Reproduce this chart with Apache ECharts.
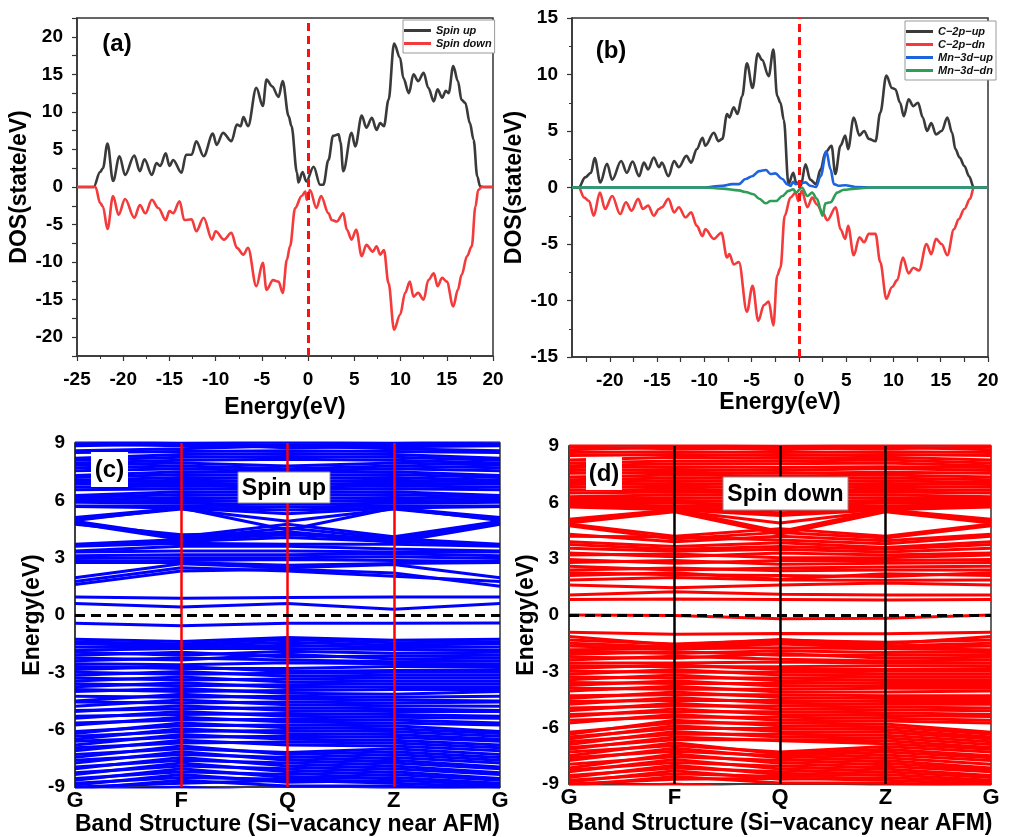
<!DOCTYPE html>
<html lang="en">
<head>
<meta charset="UTF-8">
<title>DOS and band structure</title>
<script src="https://cdn.jsdelivr.net/npm/echarts@6/dist/echarts.min.js"></script>
<style>
  html, body { margin: 0; padding: 0; background: #fff; }
  #chart { width: 1011px; height: 837px; }
</style>
</head>
<body>
<div id="chart"></div>
<script>
// ---------- data: (a) total DOS ----------
const aSpinUp = [[-25,0],[-23.2,0],[-22.5,2.0],[-22.2,2.5],[-21.7,5.8],[-21.1,0.8],[-20.4,4.1],[-19.8,1.6],[-18.8,4.2],[-18.2,2.1],[-17.7,3.7],[-16.9,1.6],[-16.4,3.2],[-16.0,2.8],[-15.4,4.5],[-15.0,2.8],[-14.6,3.6],[-13.7,1.9],[-13.2,4.3],[-12.6,4.3],[-12.1,6.1],[-11.3,4.1],[-10.3,7.1],[-9.9,5.6],[-9.2,7.2],[-8.3,6.1],[-7.7,8.3],[-7.3,8.1],[-7.0,9.3],[-6.5,8.1],[-5.6,13.2],[-4.9,10.8],[-4.5,14.3],[-3.9,13.4],[-3.2,12.0],[-2.75,14.1],[-2.1,9.4],[-1.8,8.1],[-1.2,1.9],[-1.05,0.6],[-0.6,2.0],[-0.2,0.75],[0.6,2.7],[1.3,0.3],[1.65,0.3],[2.2,3.6],[2.7,6.8],[3.3,7.0],[3.5,6.0],[3.8,2.1],[4.7,7.2],[5.1,5.4],[5.8,9.5],[6.3,7.9],[6.9,9.2],[7.4,7.6],[7.8,8.5],[8.2,8.1],[8.7,11.6],[9.3,19.1],[9.95,17.2],[10.3,14.5],[10.9,12.5],[11.4,15.0],[11.9,14.1],[12.5,15.2],[13.0,13.2],[13.6,11.4],[14.0,13.0],[14.5,11.9],[14.9,12.8],[15.2,12.5],[15.7,16.1],[16.2,14.1],[16.6,11.6],[17.0,11.2],[17.5,8.5],[17.9,6.3],[18.3,1.4],[18.6,0.1],[19,0],[20,0]];
const aSpinDown = [[-25,0],[-23.0,0],[-22.5,-2.1],[-22.2,-2.6],[-21.7,-5.6],[-21.1,-1.2],[-20.5,-3.7],[-19.8,-1.6],[-18.8,-4.1],[-18.2,-2.4],[-17.6,-3.5],[-16.9,-1.7],[-16.2,-2.8],[-15.4,-4.4],[-15.0,-3.2],[-14.6,-3.5],[-13.9,-1.9],[-13.4,-4.4],[-12.6,-4.3],[-12.1,-5.9],[-11.3,-4.1],[-10.4,-7.0],[-10.0,-5.9],[-9.1,-7.0],[-8.3,-6.1],[-7.7,-8.1],[-7.0,-9.0],[-6.5,-8.1],[-5.6,-13.2],[-4.9,-10.1],[-4.5,-13.7],[-3.8,-12.4],[-3.2,-12.6],[-2.75,-14.1],[-2.3,-9.7],[-1.96,-7.9],[-1.4,-2.8],[-0.7,-1.2],[-0.3,-0.6],[-0.15,-1.7],[0.2,-0.4],[0.9,-2.8],[1.4,-1.2],[2.2,-3.5],[2.55,-4.4],[3.1,-4.6],[3.8,-3.5],[4.2,-5.7],[4.7,-7.0],[5.2,-5.7],[5.8,-9.2],[6.3,-7.7],[7.0,-8.6],[7.4,-7.9],[7.8,-9.0],[8.2,-8.4],[8.7,-12.8],[9.3,-19.0],[9.95,-17.0],[10.5,-14.1],[11.0,-12.6],[11.4,-14.6],[11.9,-14.1],[12.5,-15.0],[13.0,-12.4],[13.6,-11.5],[14.0,-13.2],[14.5,-12.1],[15.0,-12.6],[15.7,-15.9],[16.2,-13.7],[16.6,-11.7],[17.2,-9.2],[17.7,-7.9],[18.1,-2.6],[18.4,-0.4],[18.8,0],[20,0]];

// ---------- data: (b) partial DOS ----------
const bC2pUp = [[-24,0],[-23.3,0],[-22.6,0.9],[-22.0,1.3],[-21.6,2.6],[-21.0,0.45],[-20.3,2.1],[-19.75,0.7],[-18.8,2.35],[-18.2,1.3],[-17.6,2.3],[-16.9,1.0],[-16.4,2.2],[-15.95,1.6],[-15.35,2.65],[-14.8,1.8],[-14.5,2.2],[-13.8,1.0],[-13.2,2.35],[-12.7,1.8],[-11.9,2.8],[-11.4,2.2],[-10.8,3.4],[-10.2,4.4],[-9.9,3.7],[-9.0,4.85],[-8.5,4.1],[-8.1,4.3],[-7.6,6.5],[-7.35,6.2],[-6.9,7.1],[-6.5,6.5],[-6.0,8.1],[-5.5,11.0],[-4.9,8.8],[-4.35,11.85],[-3.9,11.3],[-3.2,9.85],[-2.7,12.2],[-2.3,8.1],[-1.95,7.5],[-1.6,6.0],[-1.1,0.3],[-0.6,1.3],[-0.3,0.45],[0.2,0.15],[0.7,2.05],[1.2,0.7],[1.8,0.3],[2.3,1.6],[2.8,3.1],[3.45,3.7],[3.85,1.2],[4.4,3.7],[4.9,4.6],[5.2,3.4],[5.8,6.2],[6.4,4.6],[6.9,5.0],[7.4,4.3],[8.1,4.1],[8.6,6.6],[9.25,9.9],[9.85,8.8],[10.2,8.7],[10.7,7.5],[11.1,6.3],[11.6,7.8],[12.1,7.2],[12.6,7.5],[13.1,6.2],[13.55,5.0],[14.0,5.7],[14.5,4.7],[15.1,5.0],[15.7,6.2],[16.2,4.85],[16.55,3.4],[17.0,2.65],[17.5,1.9],[18.0,1.0],[18.5,0],[20,0]];
const bC2pDn = [[-24,0],[-23.3,0],[-22.7,-0.9],[-22.2,-1.2],[-21.7,-2.5],[-21.05,-0.45],[-20.5,-1.9],[-19.75,-0.75],[-18.9,-2.35],[-18.3,-1.3],[-17.7,-2.05],[-17.0,-1.0],[-16.5,-1.9],[-15.95,-1.6],[-15.35,-2.5],[-14.8,-1.9],[-14.5,-1.75],[-13.8,-1.0],[-13.2,-2.2],[-12.7,-1.75],[-12.0,-2.65],[-11.4,-2.2],[-10.8,-3.4],[-10.2,-4.3],[-9.9,-3.7],[-9.0,-4.55],[-8.2,-4.0],[-7.6,-6.2],[-7.35,-5.9],[-6.9,-6.8],[-6.35,-6.6],[-5.5,-11.0],[-4.9,-8.7],[-4.3,-11.8],[-3.7,-10.4],[-3.2,-10.1],[-2.7,-12.2],[-2.3,-7.8],[-1.95,-7.1],[-1.5,-2.5],[-0.9,-0.9],[-0.35,-0.45],[-0.07,-1.2],[0.3,-0.3],[0.9,-1.75],[1.4,-0.9],[1.9,-1.5],[2.5,-2.2],[3.0,-2.9],[3.9,-1.75],[4.4,-3.7],[4.9,-4.55],[5.2,-3.4],[5.8,-6.0],[6.4,-4.4],[6.9,-4.85],[7.4,-4.1],[8.1,-4.1],[8.6,-6.6],[9.25,-9.85],[9.85,-8.8],[10.4,-8.2],[11.0,-6.2],[11.6,-7.6],[12.1,-7.1],[12.7,-7.35],[13.5,-5.0],[14.0,-5.9],[14.5,-4.55],[15.1,-5.0],[15.7,-6.0],[16.4,-3.7],[16.9,-2.8],[17.5,-1.9],[18.1,-1.0],[18.5,0],[20,0]];
const bMn3dUp = [[-24,0],[-10,0],[-8.1,0.15],[-7.05,0.3],[-6.35,0.3],[-5.65,0.75],[-4.95,1.0],[-4.2,1.45],[-3.5,1.55],[-3.0,1.2],[-2.5,1.25],[-1.75,0.75],[-1.25,0.3],[-0.9,0.15],[-0.6,0.5],[-0.35,0.3],[0.2,0.4],[0.7,0.45],[1.2,0.15],[1.8,0.05],[2.3,1.0],[2.9,3.2],[3.35,1.6],[3.7,0.3],[4.2,0.15],[4.9,0.2],[5.95,0.05],[8,0],[20,0]];
const bMn3dDn = [[-24,0],[-10,0],[-8.1,-0.1],[-6.35,-0.25],[-5.65,-0.4],[-4.8,-0.6],[-4.2,-1.0],[-3.5,-1.4],[-3.0,-1.2],[-2.4,-1.2],[-1.75,-0.75],[-1.1,-0.3],[-0.6,-0.15],[-0.3,-0.45],[0.3,0],[0.9,-0.75],[1.4,-0.45],[1.9,-1.0],[2.5,-2.5],[2.8,-1.4],[3.35,-1.3],[4.05,-0.45],[4.75,-0.2],[5.95,-0.1],[7.7,0],[20,0]];

// tick values
const bXLabels = [-20, -15, -10, -5, 0, 5, 10, 15, 20];
const bXTicks = [-22.5, -20, -17.5, -15, -12.5, -10, -7.5, -5, -2.5, 0, 2.5, 5, 7.5, 10, 12.5, 15, 17.5, 20];
const kLabels = ['G', 'F', 'Q', 'Z', 'G'];

// ---------- data: (c) spin-up bands, energies at G F Q Z G ----------
const upConduction = [
  [9.1,9.0,9.05,9.0,9.1],[8.95,8.85,8.9,8.9,8.95],[8.85,8.95,8.75,8.8,8.85],[8.6,8.7,8.85,8.7,8.6],
  [8.5,8.55,8.6,8.55,8.5],[8.2,8.4,8.45,8.4,8.2],[8.1,8.25,8.3,8.25,8.1],[7.95,8.1,8.15,8.1,7.95],
  [7.85,7.95,7.8,7.95,7.85],[7.7,7.8,7.65,7.8,7.7],[7.55,7.65,7.55,7.65,7.55],[7.3,7.5,7.45,7.5,7.3],
  [7.2,7.35,7.3,7.35,7.2],[7.05,7.2,7.15,7.2,7.05],[6.95,7.05,7.0,7.05,6.95],[6.85,6.9,6.85,6.9,6.85],
  [6.7,6.75,6.7,6.75,6.7],[6.55,6.6,6.55,6.6,6.55],[6.25,6.45,6.4,6.45,6.25],[6.15,6.3,6.25,6.3,6.15],
  [6.05,6.15,6.1,6.15,6.05],[5.95,6.0,5.95,6.0,5.95],[5.9,5.85,5.8,5.85,5.9],[5.7,5.7,5.65,5.7,5.7],
  [5.68,5.6,5.5,5.6,5.68],
  [5.1,5.6,5.3,5.6,5.1],[5.0,5.55,4.9,5.55,5.0],[4.95,5.6,4.45,5.6,4.95],[4.9,4.1,4.75,4.1,4.9],
  [4.85,4.0,4.55,4.0,4.85],[4.8,3.95,4.35,3.9,4.8],[4.75,4.2,4.3,3.8,4.75],[3.7,3.95,4.2,4.0,3.7],
  [3.65,3.85,4.05,3.85,3.65],[3.6,3.75,3.7,3.7,3.6],[3.35,3.6,3.6,3.45,3.35],[3.3,3.35,3.35,3.3,3.3],
  [3.1,3.15,3.15,3.2,3.1],[2.95,3.0,3.0,3.05,2.95],[2.8,2.85,2.9,2.85,2.8],[2.75,2.75,2.6,2.7,2.75],
  [1.95,2.68,2.47,2.64,1.95],[1.75,2.47,2.3,2.03,1.75],[1.6,2.3,2.4,2.2,1.5],
  [0.94,0.88,0.92,0.94,0.94],[0.6,0.42,0.6,0.3,0.6]
];
const upValence = [
  [-0.43,-0.56,-0.43,-0.43,-0.42],[-1.27,-1.39,-1.18,-1.32,-1.27],[-1.4,-1.52,-1.28,-1.45,-1.4],
  [-1.5,-1.62,-1.42,-1.58,-1.5],[-1.68,-1.72,-1.58,-1.7,-1.68],
  [-1.85,-1.75,-1.75,-1.8,-1.85],[-1.95,-2.1,-1.9,-2.0,-1.95],[-2.1,-1.95,-2.2,-2.15,-2.1],
  [-2.25,-2.35,-2.05,-2.3,-2.25],[-2.4,-2.25,-2.35,-2.45,-2.4],[-2.55,-2.6,-2.5,-2.55,-2.55],
  [-2.7,-2.8,-2.8,-2.7,-2.7],[-2.85,-2.7,-2.95,-2.9,-2.85],[-3.0,-3.1,-3.05,-3.0,-3.0],
  [-3.15,-2.95,-3.2,-3.15,-3.15],[-3.3,-3.4,-3.35,-3.3,-3.3],[-3.45,-3.25,-3.5,-3.45,-3.45],
  [-3.6,-3.7,-3.65,-3.6,-3.6],[-3.75,-3.55,-3.8,-3.75,-3.75],[-3.9,-4.0,-3.95,-3.9,-3.9],
  [-4.0,-3.85,-4.1,-4.15,-4.0],[-4.25,-4.3,-4.25,-4.3,-4.25],[-4.5,-4.15,-4.4,-4.45,-4.5],
  [-4.55,-4.6,-4.55,-4.6,-4.55],[-4.78,-4.45,-4.7,-4.75,-4.78],[-5.0,-4.9,-4.85,-4.9,-5.0],
  [-5.05,-4.75,-5.0,-5.05,-5.05],[-5.3,-5.2,-5.15,-5.2,-5.3],[-5.4,-5.05,-5.3,-5.35,-5.4],
  [-5.65,-5.5,-5.45,-5.5,-5.65],[-5.75,-5.35,-5.6,-5.65,-5.75],[-6.1,-5.8,-5.75,-5.8,-6.1],
  [-6.2,-5.65,-5.9,-5.95,-6.2],[-6.35,-6.1,-6.05,-6.1,-6.35],[-6.5,-5.95,-6.2,-6.25,-6.5],
  [-6.6,-6.4,-6.35,-6.4,-6.6],[-6.8,-6.25,-6.5,-6.55,-6.8],[-6.95,-6.7,-6.65,-6.7,-6.95],
  [-7.1,-6.55,-6.8,-6.85,-7.1],[-7.3,-7.0,-7.2,-7.0,-7.3],[-7.45,-6.85,-7.3,-7.15,-7.45],
  [-7.6,-7.3,-7.45,-7.3,-7.6],[-7.75,-7.15,-7.6,-7.45,-7.75],[-7.95,-7.6,-7.75,-7.6,-7.95],
  [-8.05,-7.45,-7.9,-7.75,-8.05],[-8.25,-7.9,-8.05,-7.9,-8.25],[-8.35,-7.75,-8.2,-8.05,-8.35],
  [-8.55,-8.2,-8.35,-8.2,-8.55],[-8.65,-8.05,-8.5,-8.35,-8.65],[-8.8,-8.5,-8.6,-8.5,-8.8],
  [-8.9,-8.35,-8.75,-8.65,-8.9],[-9.0,-8.8,-8.65,-8.8,-9.0],[-9.1,-8.65,-8.95,-8.95,-9.1],
  [-9.2,-9.0,-9.3,-9.1,-9.2]
];

// ---------- data: (d) spin-down bands ----------
const dnConduction = [
  [9.1,9.05,9.0,9.05,9.1],[8.95,8.85,8.9,8.85,8.95],[8.8,8.95,8.8,8.95,8.8],[8.65,8.7,8.65,8.7,8.65],
  [8.5,8.55,8.5,8.55,8.5],[8.25,8.4,8.35,8.4,8.25],[8.1,8.2,8.2,8.25,8.1],[7.95,8.05,8.05,8.1,7.95],
  [7.85,7.9,7.85,7.9,7.85],[7.7,7.75,7.7,7.8,7.7],[7.55,7.6,7.55,7.6,7.55],[7.35,7.45,7.4,7.45,7.35],
  [7.2,7.3,7.25,7.3,7.2],[7.05,7.15,7.1,7.15,7.05],[6.95,7.0,6.95,7.0,6.95],[6.8,6.85,6.8,6.85,6.8],
  [6.65,6.7,6.65,6.7,6.65],[6.5,6.55,6.5,6.55,6.5],[6.3,6.4,6.35,6.4,6.3],[6.2,6.25,6.2,6.25,6.2],
  [6.1,6.1,6.05,6.1,6.1],[6.0,5.95,5.9,5.95,6.0],[5.9,5.8,5.75,5.8,5.9],[5.8,5.7,5.6,5.7,5.8],
  [5.75,5.6,5.45,5.6,5.75],
  [5.1,5.6,5.3,5.6,5.1],[5.0,5.55,4.9,5.55,5.0],[4.95,5.6,4.45,5.6,4.95],[4.9,5.5,4.3,5.5,4.9],
  [4.85,4.2,4.6,4.2,4.85],[4.75,4.05,4.4,4.1,4.75],[4.3,3.9,4.2,3.95,4.3],[4.2,4.15,4.0,3.8,4.2],
  [3.9,3.65,3.85,3.6,3.9],[3.75,3.5,3.65,3.5,3.75],[3.55,3.4,3.5,3.35,3.55],[3.3,3.1,3.3,3.2,3.3],
  [3.2,3.25,3.05,3.05,3.2],[2.95,2.75,2.9,2.9,2.95],[2.8,2.9,2.7,2.75,2.8],[2.6,2.4,2.5,2.55,2.6],
  [2.4,2.5,2.35,2.4,2.4],[2.25,2.15,2.1,2.05,2.25],[2.1,2.25,1.9,2.2,2.1],[1.87,2.0,1.86,1.85,1.87],
  [1.6,1.45,1.6,1.7,1.6],[1.06,1.24,1.1,1.06,1.06],[0.83,0.85,0.83,0.8,0.83],
  [0.0,-0.03,-0.2,-0.17,0.0]
];
const dnValence = [
  [-0.92,-1.03,-0.98,-1.0,-0.92],[-1.15,-1.6,-1.3,-1.55,-1.15],[-1.33,-1.55,-1.35,-1.45,-1.33],
  [-1.5,-1.7,-1.45,-1.65,-1.5],[-1.65,-1.8,-1.55,-1.75,-1.65],
  [-1.85,-1.8,-1.75,-1.8,-1.85],[-1.95,-2.05,-1.9,-2.0,-1.95],[-2.1,-1.95,-2.15,-2.15,-2.1],
  [-2.25,-2.3,-2.05,-2.3,-2.25],[-2.4,-2.2,-2.35,-2.45,-2.4],[-2.55,-2.55,-2.5,-2.55,-2.55],
  [-2.7,-2.75,-2.75,-2.7,-2.7],[-2.85,-2.65,-2.9,-2.9,-2.85],[-3.0,-3.05,-3.05,-3.0,-3.0],
  [-3.15,-2.9,-3.2,-3.15,-3.15],[-3.3,-3.35,-3.35,-3.3,-3.3],[-3.45,-3.2,-3.5,-3.45,-3.45],
  [-3.6,-3.65,-3.65,-3.6,-3.6],[-3.75,-3.5,-3.8,-3.75,-3.75],[-3.9,-3.95,-3.95,-3.9,-3.9],
  [-4.05,-3.8,-4.1,-4.1,-4.05],[-4.3,-4.25,-4.25,-4.3,-4.3],[-4.45,-4.1,-4.4,-4.45,-4.45],
  [-4.6,-4.55,-4.55,-4.6,-4.6],[-4.75,-4.4,-4.7,-4.75,-4.75],[-4.95,-4.85,-4.85,-4.9,-4.95],
  [-5.1,-4.7,-5.0,-5.05,-5.1],[-5.3,-5.15,-5.15,-5.2,-5.3],[-5.4,-5.0,-5.3,-5.35,-5.4],
  [-5.6,-5.45,-5.45,-5.5,-5.6],[-5.75,-5.3,-5.6,-5.65,-5.75],[-6.25,-5.75,-5.75,-5.8,-6.25],
  [-6.35,-5.6,-5.9,-5.95,-6.35],[-6.5,-6.05,-6.05,-6.1,-6.5],[-6.6,-5.9,-6.2,-6.25,-6.6],
  [-6.75,-6.35,-6.35,-6.4,-6.75],[-6.9,-6.2,-6.5,-6.55,-6.9],[-7.05,-6.65,-6.65,-6.7,-7.05],
  [-7.15,-6.5,-6.7,-6.85,-7.15],[-7.3,-6.95,-7.3,-7.0,-7.3],[-7.5,-6.8,-7.4,-7.15,-7.5],
  [-7.6,-7.25,-7.5,-7.3,-7.6],[-7.75,-7.1,-7.6,-7.45,-7.75],[-7.95,-7.55,-7.75,-7.6,-7.95],
  [-8.15,-7.4,-7.9,-7.75,-8.15],[-8.25,-7.85,-8.05,-7.9,-8.25],[-8.35,-7.7,-8.2,-8.05,-8.35],
  [-8.55,-8.15,-8.35,-8.2,-8.55],[-8.65,-8.0,-8.5,-8.35,-8.65],[-8.8,-8.45,-8.6,-8.5,-8.8],
  [-8.9,-8.3,-8.75,-8.65,-8.9],[-9.0,-8.75,-8.7,-8.8,-9.0],[-9.1,-8.6,-8.95,-8.95,-9.1],
  [-9.2,-9.0,-9.3,-9.1,-9.2]
];

// ---------- chart ----------
const FONT = '"Liberation Sans", Arial, sans-serif';
const chart = echarts.init(document.getElementById('chart'), null, { renderer: 'canvas' });

function valueAxis(idx, opt) {
  return Object.assign({
    type: 'value', gridIndex: idx,
    splitLine: { show: false },
    axisLine: { show: true, onZero: false, lineStyle: { color: '#333', width: 1.5 } },
    axisTick: { show: true, inside: false, length: 5, lineStyle: { color: '#333', width: 1.2 } },
    axisLabel: { color: '#000', fontFamily: FONT, fontWeight: 'bold', fontSize: 19, margin: 14 },
    nameLocation: 'middle',
    nameTextStyle: { color: '#000', fontFamily: FONT, fontWeight: 'bold', fontSize: 23 }
  }, opt);
}

function dosLine(name, data, color, idx) {
  return {
    name, type: 'line', xAxisIndex: idx, yAxisIndex: idx, data,
    smooth: 0.35, smoothMonotone: 'x', showSymbol: false, symbol: 'none',
    color, lineStyle: { color, width: 2.6 }, silent: true
  };
}

function bandLines(bands, idx, color) {
  return bands.map(b => ({
    type: 'line', xAxisIndex: idx, yAxisIndex: idx,
    data: b.map((e, k) => [k, e]),
    symbol: 'none', silent: true, z: 2,
    lineStyle: { color, width: 3 }
  }));
}

function refLines(idx, kColor) {
  const inner = kLabels.map((_, k) => k).slice(1, -1);
  return {
    type: 'line', xAxisIndex: idx, yAxisIndex: idx, data: [], z: 10, silent: true,
    markLine: {
      symbol: 'none', silent: true, animation: false, label: { show: false },
      data: inner.map(k => ({ xAxis: k, lineStyle: { color: kColor, width: 2.5, type: 'solid' } }))
        .concat([{ yAxis: 0, lineStyle: { color: '#000', width: 3, type: [10, 6] } }])
    }
  };
}

const fermiMark = {
  symbol: 'none', silent: true, animation: false, label: { show: false },
  lineStyle: { color: '#ff1010', width: 3, type: [8, 5] },
  data: [{ xAxis: 0 }]
};

const legendBase = {
  orient: 'vertical', icon: 'rect', itemWidth: 27, itemHeight: 3, itemGap: 2,
  borderColor: '#999', borderWidth: 1, backgroundColor: '#fff', selectedMode: false,
  textStyle: { color: '#111', fontFamily: FONT, fontSize: 11, fontStyle: 'italic', fontWeight: 'bold' }
};

const series = [
  dosLine('Spin up', aSpinUp, '#3a3a3a', 0),
  Object.assign(dosLine('Spin down', aSpinDown, '#f43a3a', 0), { markLine: fermiMark }),
  dosLine('C\u22122p\u2212up', bC2pUp, '#3a3a3a', 1),
  dosLine('C\u22122p\u2212dn', bC2pDn, '#f43a3a', 1),
  dosLine('Mn\u22123d\u2212up', bMn3dUp, '#1d62de', 1),
  Object.assign(dosLine('Mn\u22123d\u2212dn', bMn3dDn, '#2e9d57', 1), { markLine: fermiMark })
]
  .concat(bandLines(upConduction.concat(upValence), 2, '#0000ff'))
  .concat([refLines(2, '#ff0000')])
  .concat(bandLines(dnConduction.concat(dnValence), 3, '#ff0000'))
  .concat([refLines(3, '#000000')]);

function labelStyle(text, size) {
  return { text, fill: '#000', font: 'bold ' + size + 'px ' + FONT,
           textAlign: 'center', textVerticalAlign: 'middle', align: 'center', verticalAlign: 'middle' };
}

function boxLabel(text, x, y, w, h, size, border) {
  return [
    { type: 'rect', z: 100, shape: { x, y, width: w, height: h },
      style: { fill: '#fff', stroke: border ? '#8a8a8a' : null, lineWidth: border ? 1 : 0 } },
    { type: 'text', z: 101, x: x + w / 2, y: y + h / 2 + 1, style: labelStyle(text, size) }
  ];
}

chart.setOption({
  animation: false,
  backgroundColor: '#fff',
  grid: [
    { left: 77, top: 18, width: 416, height: 338 },
    { left: 572, top: 18, width: 416, height: 339 },
    { left: 75, top: 443, width: 425, height: 345 },
    { left: 569, top: 446, width: 422, height: 338 }
  ].map(g => Object.assign({ show: true, borderColor: '#333', borderWidth: 1.5, backgroundColor: 'transparent' }, g)),
  xAxis: [
    valueAxis(0, { min: -25, max: 20, interval: 5, minorTick: { show: true, splitNumber: 2, length: 3 },
      name: 'Energy(eV)', nameGap: 40 }),
    valueAxis(1, { min: -24, max: 20,
      axisTick: { show: true, inside: false, length: 5, customValues: bXTicks, lineStyle: { color: '#333', width: 1.2 } },
      axisLabel: { color: '#000', fontFamily: FONT, fontWeight: 'bold', fontSize: 19, margin: 14, customValues: bXLabels },
      name: 'Energy(eV)', nameGap: 34 }),
    valueAxis(2, { min: 0, max: 4, interval: 1, axisTick: { show: false },
      axisLabel: { color: '#000', fontFamily: FONT, fontWeight: 'bold', fontSize: 22, margin: 3, formatter: v => kLabels[v] },
      name: 'Band Structure (Si\u2212vacancy near AFM)', nameGap: 26 }),
    valueAxis(3, { min: 0, max: 4, interval: 1, axisTick: { show: false },
      axisLabel: { color: '#000', fontFamily: FONT, fontWeight: 'bold', fontSize: 22, margin: 3, formatter: v => kLabels[v] },
      name: 'Band Structure (Si\u2212vacancy near AFM)', nameGap: 28 })
  ],
  yAxis: [
    valueAxis(0, { min: -22.5, max: 22.5, interval: 2.5,
      axisLabel: { color: '#000', fontFamily: FONT, fontWeight: 'bold', fontSize: 19, margin: 14,
        formatter: v => (v % 5 === 0 ? String(v) : '') },
      name: 'DOS(state/eV)', nameGap: 42 }),
    valueAxis(1, { min: -15, max: 15, interval: 5, minorTick: { show: true, splitNumber: 2, length: 3 },
      name: 'DOS(state/eV)', nameGap: 35 }),
    valueAxis(2, { min: -9, max: 9, interval: 3, axisTick: { show: false },
      axisLabel: { color: '#000', fontFamily: FONT, fontWeight: 'bold', fontSize: 19, margin: 10 },
      name: 'Energy(eV)', nameGap: 27 }),
    valueAxis(3, { min: -9, max: 9, interval: 3, axisTick: { show: false },
      axisLabel: { color: '#000', fontFamily: FONT, fontWeight: 'bold', fontSize: 19, margin: 10 },
      name: 'Energy(eV)', nameGap: 29 })
  ],
  legend: [
    Object.assign({}, legendBase, { data: ['Spin up', 'Spin down'], left: 403, top: 20, padding: [5, 3, 4, 1] }),
    Object.assign({}, legendBase, { data: ['C\u22122p\u2212up', 'C\u22122p\u2212dn', 'Mn\u22123d\u2212up', 'Mn\u22123d\u2212dn'],
      left: 905, top: 21, padding: [5, 3, 4, 1] })
  ],
  graphic: [
    { type: 'text', x: 117, y: 44, z: 100, style: labelStyle('(a)', 24) },
    { type: 'text', x: 611, y: 51, z: 100, style: labelStyle('(b)', 24) }
  ].concat(
    boxLabel('(c)', 91, 452, 37, 35, 24, false),
    boxLabel('(d)', 586, 457, 36, 33, 24, false),
    boxLabel('Spin up', 238, 472, 92, 31, 23, true),
    boxLabel('Spin down', 723, 477, 125, 33, 23, true)
  ),
  series
});
</script>
</body>
</html>
